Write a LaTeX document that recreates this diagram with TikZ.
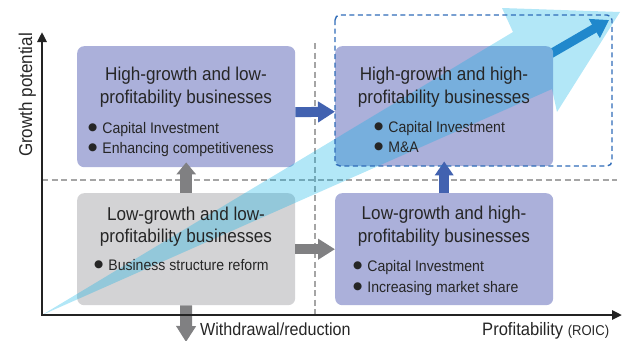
\documentclass[tikz,border=0pt]{standalone}
\usepackage{fontspec}
\setmainfont{Liberation Sans}[FakeStretch=0.92]
\newfontfamily\dvfont{DejaVu Sans}
\usetikzlibrary{arrows.meta}
\definecolor{lav}{HTML}{ABB0DA}
\definecolor{greybox}{HTML}{D3D3D5}
\definecolor{arrblue}{HTML}{4262B0}
\definecolor{arrgrey}{HTML}{808082}
\definecolor{dashgrey}{HTML}{A5A5A5}
\definecolor{rectblue}{HTML}{2F6CB8}
\definecolor{darkarr}{HTML}{2E78C2}
\definecolor{cyanarr}{RGB}{0,175,230}
\definecolor{txt}{HTML}{262626}
\definecolor{axis}{HTML}{232323}
\newcommand\bul{\raisebox{2.6pt}{\dvfont\fontsize{10.5}{10}\selectfont ●}\hspace{5pt}}
\begin{document}
\begin{tikzpicture}[x=1pt,y=-1pt,
  qbox/.style={rounded corners=7pt, minimum width=218pt, anchor=north west, inner sep=0pt, draw=none},
  titletext/.style={anchor=base, inner sep=0pt, font=\fontsize{18.6}{22}\selectfont, text=txt},
  itemtext/.style={anchor=base west, inner sep=0pt, font=\fontsize{15.3}{19}\selectfont, text=txt},
  labeltext/.style={inner sep=0pt, text=txt},
  blockarr/.style={line width=10pt, -{Triangle[length=17pt,width=20pt]}},
  gridline/.style={dashgrey, line width=1.2pt, dash pattern=on 6pt off 3.5pt}]
\useasboundingbox (0,0) rectangle (623,340);
\coordinate (O) at (42,315);
\coordinate (ytop) at (42,32);
\coordinate (xend) at (622,315);
\coordinate (wd) at (186,342);
\coordinate (ds) at (540,60);
\coordinate (de) at (609,20);

% grid dashed lines
\draw[gridline] (42,180) -- (617,180);
\draw[gridline] (315,43) -- (315,315);

% dark blue arrow (behind box)
\draw[darkarr, line width=9pt, -{Triangle[length=17pt,width=21pt]}] (ds) -- (de);

% boxes
\node[qbox, fill=lav, minimum height=121pt] (tl) at (77,46) {};
\node[qbox, fill=lav, minimum height=120pt] (tr) at (335,46) {};
\node[qbox, fill=greybox, minimum height=112pt] (bl) at (77,193) {};
\node[qbox, fill=lav, minimum height=112pt] (br) at (335,193) {};

% block arrows between boxes
\draw[blockarr, arrblue] ([yshift=-5.5pt]tl.east) -- ([yshift=-5.5pt]tr.west);
\draw[blockarr, arrblue, -{Triangle[length=14pt,width=18pt]}] (br.north) -- ([yshift=5pt]tr.south);
\draw[blockarr, arrgrey, line width=12pt, -{Triangle[length=12pt,width=19pt]}] (bl.north) -- ([yshift=5pt]tl.south);
\draw[blockarr, arrgrey] (bl.east) -- (br.west);
\draw[blockarr, arrgrey, line width=12pt, -{Triangle[length=16pt,width=19pt]}] (bl.south) -- (wd);

% big light blue arrow
\fill[cyanarr, fill opacity=0.3] (O) -- (552,89) -- (557,112) -- (620,12) -- (502,8) -- (513,32) -- cycle;

% dashed blue rectangle
\draw[rectblue, line width=1.4pt, dash pattern=on 5pt off 3.5pt, rounded corners=5pt] (335,15) rectangle (612,166);

% axes
\draw[axis, line width=2.5pt, {Triangle[length=10pt,width=9pt]}-{Triangle[length=10pt,width=9pt]}] (ytop) -- (O) -- (xend);

% texts
\node[titletext] (tl1) at (186,80) {High-growth and low-};
\node[titletext] (tl2) at (186,103) {profitability businesses};
\node[itemtext] (tl3) at (88,133) {\bul Capital Investment};
\node[itemtext] (tl4) at (88,153) {\bul Enhancing competitiveness};

\node[titletext] (tr1) at (444,80) {High-growth and high-};
\node[titletext] (tr2) at (444,103) {profitability businesses};
\node[itemtext] (tr3) at (374,132) {\bul Capital Investment};
\node[itemtext] (tr4) at (374,152) {\bul M\&A};

\node[titletext] (bl1) at (186,220) {Low-growth and low-};
\node[titletext] (bl2) at (186,242) {profitability businesses};
\node[itemtext] (bl3) at (94,270) {\bul Business structure reform};

\node[titletext] (br1) at (444,219) {Low-growth and high-};
\node[titletext] (br2) at (444,242) {profitability businesses};
\node[itemtext] (br3) at (353,271) {\bul Capital Investment};
\node[itemtext] (br4) at (353,292) {\bul Increasing market share};

\node[labeltext, anchor=base, rotate=90, font=\fontsize{18.5}{20}\selectfont] (ylab) at (32,95) {Growth potential};
\node[labeltext, anchor=base west, font=\fontsize{17.5}{20}\selectfont] (wlab) at (200,335) {Withdrawal/reduction};
\node[labeltext, anchor=base west, font=\fontsize{18}{20}\selectfont] (xlab) at (482,335) {Profitability {\fontsize{14.2}{16}\selectfont(ROIC)}};
\end{tikzpicture}
\end{document}
